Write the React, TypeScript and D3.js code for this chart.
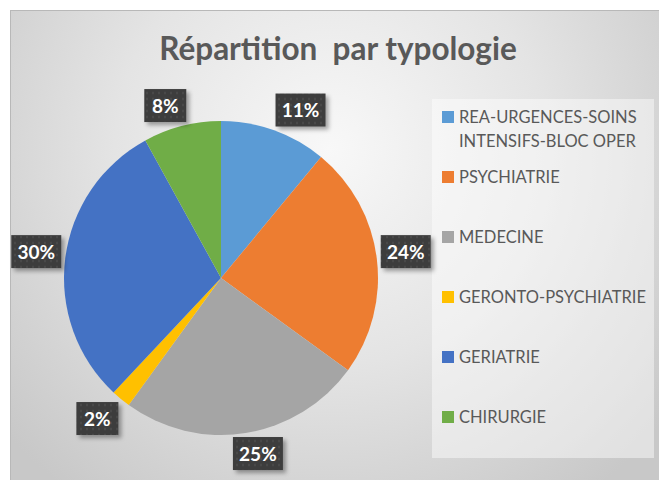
import React from "react";
import * as d3 from "d3";

const categories = [
  "REA-URGENCES-SOINS INTENSIFS-BLOC OPER",
  "PSYCHIATRIE",
  "MEDECINE",
  "GERONTO-PSYCHIATRIE",
  "GERIATRIE",
  "CHIRURGIE",
];
const legendLines = [
  ["REA-URGENCES-SOINS", "INTENSIFS-BLOC OPER"],
  ["PSYCHIATRIE"],
  ["MEDECINE"],
  ["GERONTO-PSYCHIATRIE"],
  ["GERIATRIE"],
  ["CHIRURGIE"],
];
const values = [11, 24, 25, 2, 30, 8];
const colors = ["#5B9BD5", "#ED7D31", "#A5A5A5", "#FFC000", "#4472C4", "#70AD47"];
const title = "Répartition\u00A0 par typologie";

const W = 659;
const H = 480;
const FONT = "Lato, 'Open Sans', sans-serif";

export default function App() {
  const cx = 221;
  const cy = 278;
  const r = 157;
  const pie = d3.pie<number>().sort(null).value((d) => d)(values);
  const arc = d3.arc<d3.PieArcDatum<number>>().innerRadius(0).outerRadius(r);
  const total = d3.sum(values);
  const fmt = (v: number) => `${Math.round((v / total) * 100)}%`;

  const legendX = 442;
  const legendRowY = d3.scalePoint<number>().domain(d3.range(categories.length)).range([117, 417]);

  return (
    <svg width={W} height={H} style={{ position: "absolute", left: 0, top: 0 }}>
      <defs>
        <radialGradient id="bg" gradientUnits="userSpaceOnUse" cx={330} cy={150} r={430}>
          <stop offset="0" stopColor="#f8f8f8" />
          <stop offset="0.5" stopColor="#e4e4e4" />
          <stop offset="1" stopColor="#c8c8c8" />
        </radialGradient>
        <filter id="shadow" x="-30%" y="-30%" width="170%" height="170%">
          <feDropShadow dx="3" dy="3" stdDeviation="2" floodColor="#000" floodOpacity="0.35" />
        </filter>
        <pattern id="dots" width="6" height="6" patternUnits="userSpaceOnUse">
          <rect width="6" height="6" fill="#3d3d3d" />
          <circle cx="3" cy="3" r="1.2" fill="#4a4a4a" />
        </pattern>
      </defs>
      <rect x={0} y={0} width={W} height={H} fill="#ffffff" />
      <rect x={10} y={10} width={W - 10} height={H - 10} fill="url(#bg)" />
      <line x1={10.5} y1={10} x2={10.5} y2={H} stroke="#b8b8b8" />
      <line x1={10} y1={10.5} x2={W} y2={10.5} stroke="#b8b8b8" />

      <text
        x={338}
        y={60}
        textAnchor="middle"
        fontFamily={FONT}
        fontWeight={700}
        fontSize={31.5}
        fill="#595959"
      >
        {title}
      </text>

      <rect x={432} y={99} width={222} height={359} fill="#ffffff" fillOpacity={0.45} />

      <g transform={`translate(${cx},${cy})`}>
        {pie.map((p, i) => (
          <path key={i} d={arc(p) || ""} fill={colors[i]} />
        ))}
      </g>

      {pie.map((p, i) => {
        const mid = (p.startAngle + p.endAngle) / 2;
        const dx = Math.sin(mid);
        const dy = -Math.cos(mid);
        const rr = r + 4;
        const px = cx + dx * rr;
        const py = cy + dy * rr;
        const label = fmt(p.value);
        const w = label.length === 2 ? 42 : 50;
        const h = 33;
        const fx = Math.max(-1, Math.min(1, dx * 3));
        const fy = Math.max(-1, Math.min(1, dy * 3));
        const bx = px + (fx * w) / 2;
        const by = py + (fy * h) / 2;
        return (
          <g key={"l" + i}>
            <rect
              x={bx - w / 2}
              y={by - h / 2}
              width={w}
              height={h}
              fill="url(#dots)"
              filter="url(#shadow)"
            />
            <text
              x={bx}
              y={by + 7}
              textAnchor="middle"
              fontFamily={FONT}
              fontWeight={700}
              fontSize={19}
              fill="#ffffff"
            >
              {label}
            </text>
          </g>
        );
      })}

      {categories.map((c, i) => {
        const lines = legendLines[i];
        const y0 = legendRowY(i)!;
        const lh = 24;
        return (
          <g key={"lg" + i}>
            <rect x={legendX} y={y0 - 6} width={12} height={12} fill={colors[i]} />
            {lines.map((ln, j) => (
              <text
                key={j}
                x={legendX + 17}
                y={y0 + j * lh + 6}
                fontFamily={FONT}
                fontSize={16.5}
                fill="#595959"
              >
                {ln}
              </text>
            ))}
          </g>
        );
      })}
    </svg>
  );
}
